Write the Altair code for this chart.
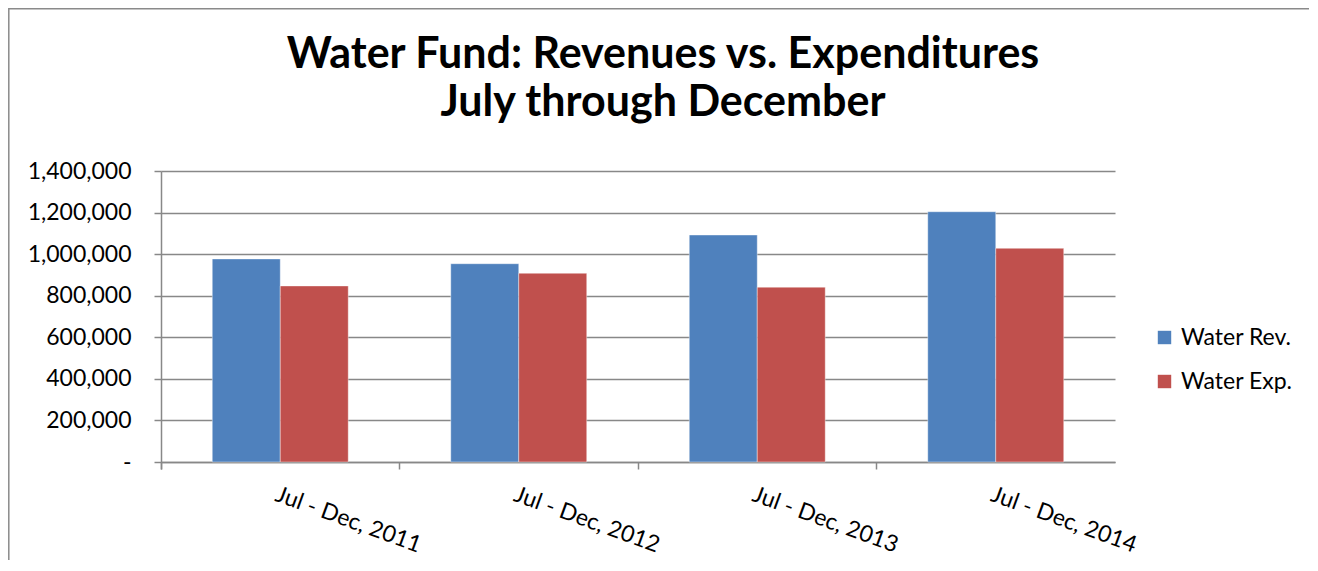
import altair as alt
import pandas as pd

categories = ["Jul - Dec, 2011", "Jul - Dec, 2012", "Jul - Dec, 2013", "Jul - Dec, 2014"]
series = ["Water Rev.", "Water Exp."]
water_rev = [977000, 954000, 1092000, 1204000]
water_exp = [847000, 908000, 841000, 1028000]
y_ticks = [0, 200000, 400000, 600000, 800000, 1000000, 1200000, 1400000]
colors = ["#4F81BD", "#C0504D"]

rows = []
for i, c in enumerate(categories):
    rows.append({"period": c, "series": series[0], "value": water_rev[i]})
    rows.append({"period": c, "series": series[1], "value": water_exp[i]})
df = pd.DataFrame(rows)

FONT = "Lato"
GRID = "#888888"

bars = alt.Chart(df).mark_bar(stroke="white", strokeWidth=0.8, strokeOpacity=0.5).encode(
    x=alt.X(
        "period:N",
        sort=categories,
        scale=alt.Scale(paddingInner=0, paddingOuter=0),
        axis=alt.Axis(
            title=None,
            labelAngle=20,
            labelAlign="left",
            labelBaseline="top",
            labelFont=FONT,
            labelFontSize=23,
            labelColor="black",
            labelPadding=14,
            tickSize=7,
            tickColor=GRID,
            tickWidth=1.5,
            bandPosition=0,
            tickExtra=True,
            domainColor=GRID,
            domainWidth=1.5,
            grid=False,
        ),
    ),
    xOffset=alt.XOffset("series:N", sort=series, scale=alt.Scale(paddingInner=0, paddingOuter=0.754)),
    y=alt.Y(
        "value:Q",
        scale=alt.Scale(domain=[0, 1400000], nice=False),
        axis=alt.Axis(
            title=None,
            values=y_ticks,
            labelExpr="datum.value == 0 ? '-\u00a0\u00a0\u00a0' : format(datum.value, ',')",
            labelFont=FONT,
            labelFontSize=23,
            labelColor="black",
            labelPadding=23,
            tickSize=7,
            tickColor=GRID,
            tickWidth=1.5,
            domainColor=GRID,
            domainWidth=1.5,
            gridColor=GRID,
            gridWidth=1.4,
        ),
    ),
    color=alt.Color(
        "series:N",
        sort=series,
        scale=alt.Scale(domain=series, range=colors),
        legend=alt.Legend(
            title=None,
            orient="none",
            legendX=992,
            legendY=155,
            symbolType="square",
            symbolSize=180,
            symbolStrokeWidth=0,
            labelFont=FONT,
            labelFontSize=23,
            labelColor="black",
            labelOffset=5,
            rowPadding=20,
            padding=0,
        ),
    ),
)

# chart-area frame (decoration), drawn at the very edge of the drawing
frame_df = pd.DataFrame({"a": [0]})
border = alt.Chart(frame_df).mark_rect(
    fill="white", fillOpacity=0, stroke="#8a8a8a", strokeWidth=1.5
).encode(
    x=alt.value(-152.2), y=alt.value(-162.2), x2=alt.value(1200), y2=alt.value(450)
)

chart = alt.layer(bars, border).properties(
    width=954,
    height=291,
    autosize=alt.AutoSizeParams(type="none"),
    padding={"left": 153, "top": 163, "right": 194, "bottom": 98},
    title=alt.Title(
        ["Water Fund: Revenues vs. Expenditures", "July through December"],
        font=FONT,
        fontSize=43,
        fontWeight="bold",
        color="black",
        lineHeight=48,
        anchor="middle",
        frame="group",
        dx=25,
        offset=-117,
    ),
).configure_view(strokeWidth=0)

chart.save("out.html", embed_options={"renderer": "svg", "actions": False})
